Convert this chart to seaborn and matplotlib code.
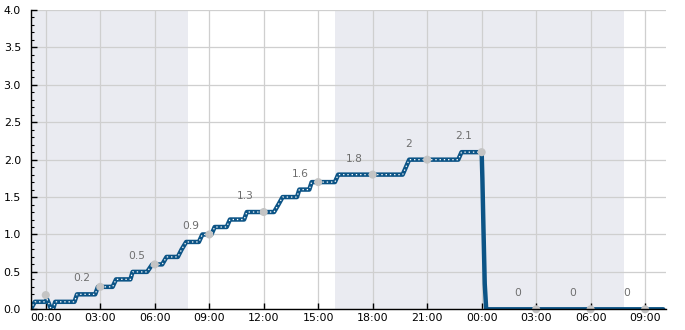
import matplotlib
matplotlib.use("Agg")
import matplotlib.pyplot as plt
import seaborn as sns
import pandas as pd
from matplotlib.ticker import FixedLocator, MultipleLocator, FuncFormatter

# hours relative to first midnight
line_hours = [-0.83, -0.6, -0.05, 0.08, 0.3, 0.4, 0.52, 1.58, 1.72, 2.72, 2.87, 3.68, 3.87,
              4.66, 4.78, 5.58, 5.86, 6.41, 6.65, 7.27, 7.48, 7.73, 8.43, 8.62, 9.12, 9.30,
              9.96, 10.14, 10.92, 11.07, 12.57, 12.81, 13.04, 13.83, 13.96, 14.51, 14.64,
              15.92, 16.10, 19.65, 20.01, 22.71, 22.89, 24.0, 24.04, 24.1, 24.17, 24.25, 34.0]
line_values = [0.0, 0.1, 0.1, 0.13, 0.0, 0.0, 0.1, 0.1, 0.2, 0.2, 0.3, 0.3, 0.4,
               0.4, 0.5, 0.5, 0.6, 0.6, 0.7, 0.7, 0.8, 0.9, 0.9, 1.0, 1.0, 1.1,
               1.1, 1.2, 1.2, 1.3, 1.3, 1.4, 1.5, 1.5, 1.6, 1.6, 1.7,
               1.7, 1.8, 1.8, 2.0, 2.0, 2.1, 2.1, 1.75, 1.07, 0.34, 0.0, 0.0]
dotted_end_hour = 24.0

point_hours = [0, 3, 6, 9, 12, 15, 18, 21, 24, 27, 30, 33]
point_values = [0.19, 0.3, 0.6, 1.0, 1.3, 1.7, 1.8, 2.0, 2.1, 0.0, 0.0, 0.0]

label_hours = [2, 5, 8, 11, 14, 17, 20, 23, 26, 29, 32]
label_values = [0.2, 0.5, 0.9, 1.3, 1.6, 1.8, 2.0, 2.1, 0.0, 0.0, 0.0]
label_texts = ["0.2", "0.5", "0.9", "1.3", "1.6", "1.8", "2", "2.1", "0", "0", "0"]

shade_spans = [(-0.83, 7.82), (15.92, 31.83)]
x_ticks = [0, 3, 6, 9, 12, 15, 18, 21, 24, 27, 30, 33]
x_limits = (-0.83, 34.15)
y_limits = (0, 4.0)

sns.set_style("white")
plt.rcParams['font.family'] = ['DejaVu Sans']

fig = plt.figure(figsize=(6.85, 3.3), dpi=100)
ax = fig.add_axes([30.7 / 685, 1 - 309.3 / 330, (666 - 30.7) / 685, (309.3 - 10) / 330])

for a, b in shade_spans:
    ax.axvspan(a, b, color="#eaebf1", zorder=0, lw=0)

df = pd.DataFrame({"h": line_hours, "v": line_values})
sns.lineplot(data=df, x="h", y="v", ax=ax, estimator=None, sort=False,
             color="#0c5486", lw=3.2, zorder=3)
dfd = df[df["h"] <= dotted_end_hour]
sns.lineplot(data=dfd, x="h", y="v", ax=ax, estimator=None, sort=False,
             color="white", lw=0.9, zorder=4, linestyle=(0, (1.1, 2.3)))

dfp = pd.DataFrame({"h": point_hours, "v": point_values})
sns.scatterplot(data=dfp, x="h", y="v", ax=ax, color="#c4c4c4", s=34,
                edgecolor="none", zorder=5, clip_on=False)

for h, v, t in zip(label_hours, label_values, label_texts):
    ax.annotate(t, (h, v), xytext=(0, 16), textcoords="offset pixels",
                ha="center", va="center", fontsize=7.7, color="#6e6e6e", zorder=6)

ax.set_xlim(*x_limits)
ax.set_ylim(*y_limits)
ax.xaxis.set_major_locator(FixedLocator(x_ticks))
ax.xaxis.set_major_formatter(FuncFormatter(lambda h, p: f"{int(round(h)) % 24:02d}:00"))
ax.yaxis.set_major_locator(MultipleLocator(0.5))
ax.yaxis.set_minor_locator(MultipleLocator(0.1))
ax.yaxis.set_major_formatter(FuncFormatter(lambda v, p: f"{v:.1f}"))

ax.grid(True, which="major", color="#cfcfcf", lw=0.9)
ax.set_axisbelow(True)
for s in ["top", "right"]:
    ax.spines[s].set_visible(False)
for s in ["left", "bottom"]:
    ax.spines[s].set_color("black")
    ax.spines[s].set_linewidth(1.0)
    ax.spines[s].set_zorder(7)

ax.tick_params(axis="y", which="major", direction="in", length=4, width=1,
               labelsize=7.9, pad=7, colors="black", left=True)
ax.tick_params(axis="y", which="minor", direction="in", length=2.5, width=0.8,
               colors="black", left=True)
ax.tick_params(axis="x", which="major", direction="in", length=4, width=1,
               labelsize=7.9, pad=2.5, colors="black", bottom=True)
ax.set_xlabel("")
ax.set_ylabel("")

fig.savefig("out.png", dpi=100)
